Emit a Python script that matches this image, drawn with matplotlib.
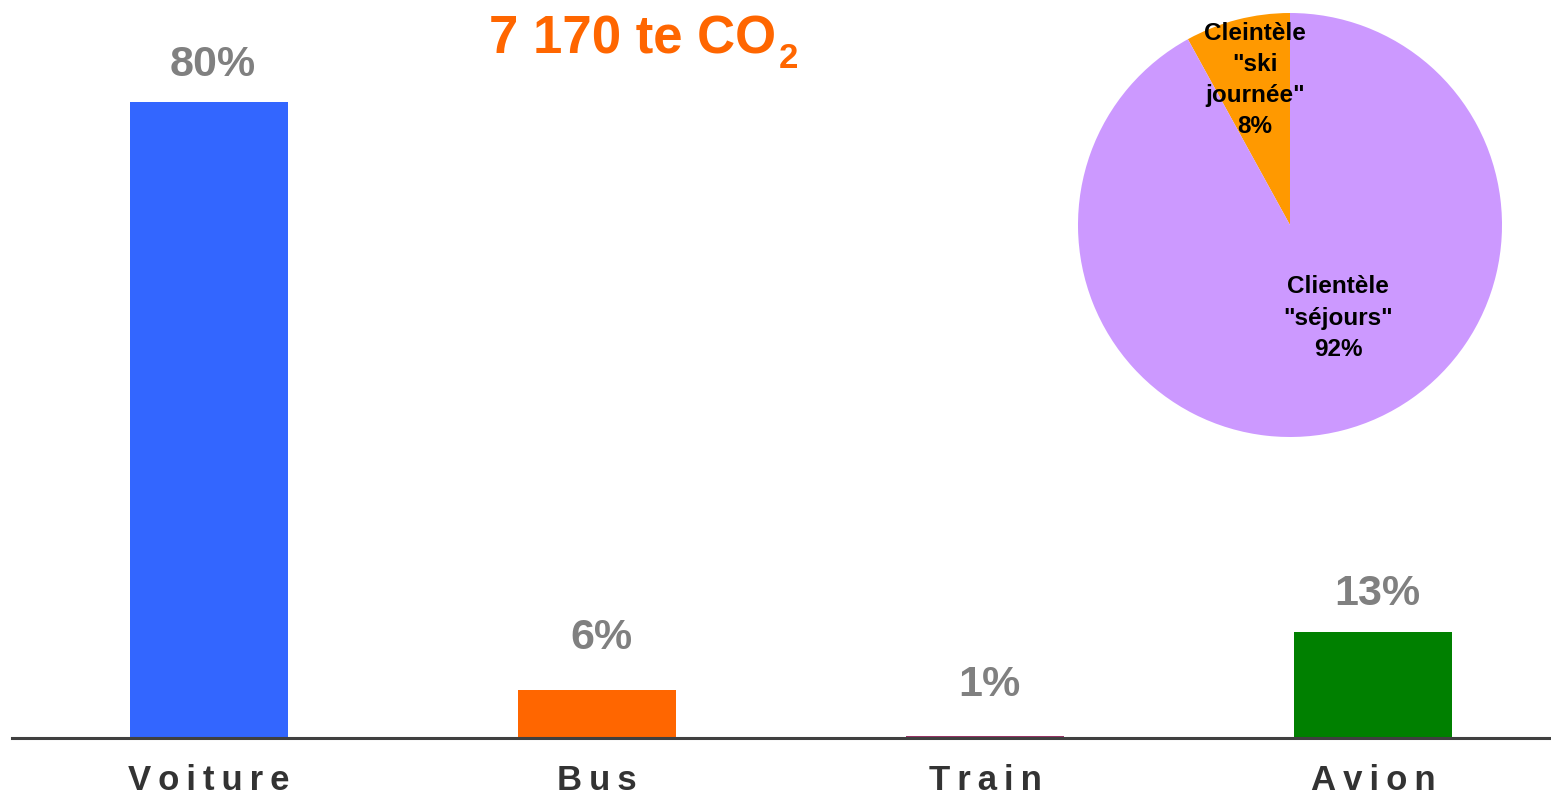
import matplotlib
matplotlib.use("Agg")
import matplotlib.pyplot as plt

plt.rcParams['font.family'] = ['Liberation Sans', 'DejaVu Sans']

# ---- data ----
categories = ["Voiture", "Bus", "Train", "Avion"]
bar_values = [80.0, 6.0, 0.3, 13.3]
bar_labels = ["80%", "6%", "1%", "13%"]
bar_colors = ["#3366FF", "#FF6600", "#993366", "#008000"]

pie_values = [8, 92]
pie_labels = ["Cleintèle\n\"ski\njournée\"\n8%", "Clientèle\n\"séjours\"\n92%"]
pie_colors = ["#FF9900", "#CC99FF"]

title_main = "7 170 te CO"
title_sub = "2"

# ---- layout ----
W, H, DPI = 1551, 797, 100
fig = plt.figure(figsize=(W / DPI, H / DPI), dpi=DPI)
fig.patch.set_facecolor("white")

ax_left, ax_base = 12, 738
ax = fig.add_axes([ax_left / W, (H - ax_base) / H, (W - ax_left) / W, ax_base / H])
px_per_cat = 388
x0 = -(209 - ax_left) / px_per_cat
ax.set_xlim(x0, x0 + (W - ax_left) / px_per_cat)
ax.set_ylim(0, ax_base / 7.95)

xs = list(range(len(categories)))
ax.bar(xs, bar_values, width=0.405, color=bar_colors, zorder=2)

for sp in ["top", "right", "left"]:
    ax.spines[sp].set_visible(False)
ax.spines["bottom"].set_color("#404040")
ax.spines["bottom"].set_linewidth(2.2)
ax.spines["bottom"].set_zorder(3)
ax.set_yticks([])

def spaced(s):
    return "\u2009".join(s)

ax.set_xticks(xs)
ax.set_xticklabels([spaced(c) for c in categories], fontsize=25, fontweight="bold",
                   color="#333333")
ax.tick_params(axis="x", length=0, pad=19)

label_offsets_px = [37, 52, 51, 38]
for x, v, lab, off in zip(xs, bar_values, bar_labels, label_offsets_px):
    ax.annotate(lab, (x, v), xytext=(4, off), textcoords="offset pixels",
                ha="center", va="center", fontsize=31, fontweight="bold", color="#808080")

# ---- pie ----
pcx, pcy, pr = 1290, 225, 212
pax = fig.add_axes([(pcx - pr) / W, (H - pcy - pr) / H, 2 * pr / W, 2 * pr / H])
pax.pie(pie_values, colors=pie_colors, startangle=90, counterclock=True, radius=1,
        wedgeprops=dict(linewidth=0))
pax.set_xlim(-1, 1)
pax.set_ylim(-1, 1)
pax.set_aspect("equal")
pax.axis("off")
label_pos = [(-0.165, 0.684), (0.226, -0.439)]
for (lx, ly), t in zip(label_pos, pie_labels):
    pax.text(lx, ly, t, ha="center", va="center", fontsize=17.5, fontweight="bold",
             color="black", linespacing=1.45)

# ---- title ----
t1 = fig.text(489 / W, (H - 53) / H, title_main, ha="left", va="baseline",
              fontsize=38, fontweight="bold", color="#FF6600")
fig.canvas.draw()
bb = t1.get_window_extent(renderer=fig.canvas.get_renderer())
fig.text((bb.x1 + 3) / W, (H - 68) / H, title_sub, ha="left", va="baseline",
         fontsize=25, fontweight="bold", color="#FF6600")

fig.savefig("out.png", dpi=DPI, facecolor="white")
